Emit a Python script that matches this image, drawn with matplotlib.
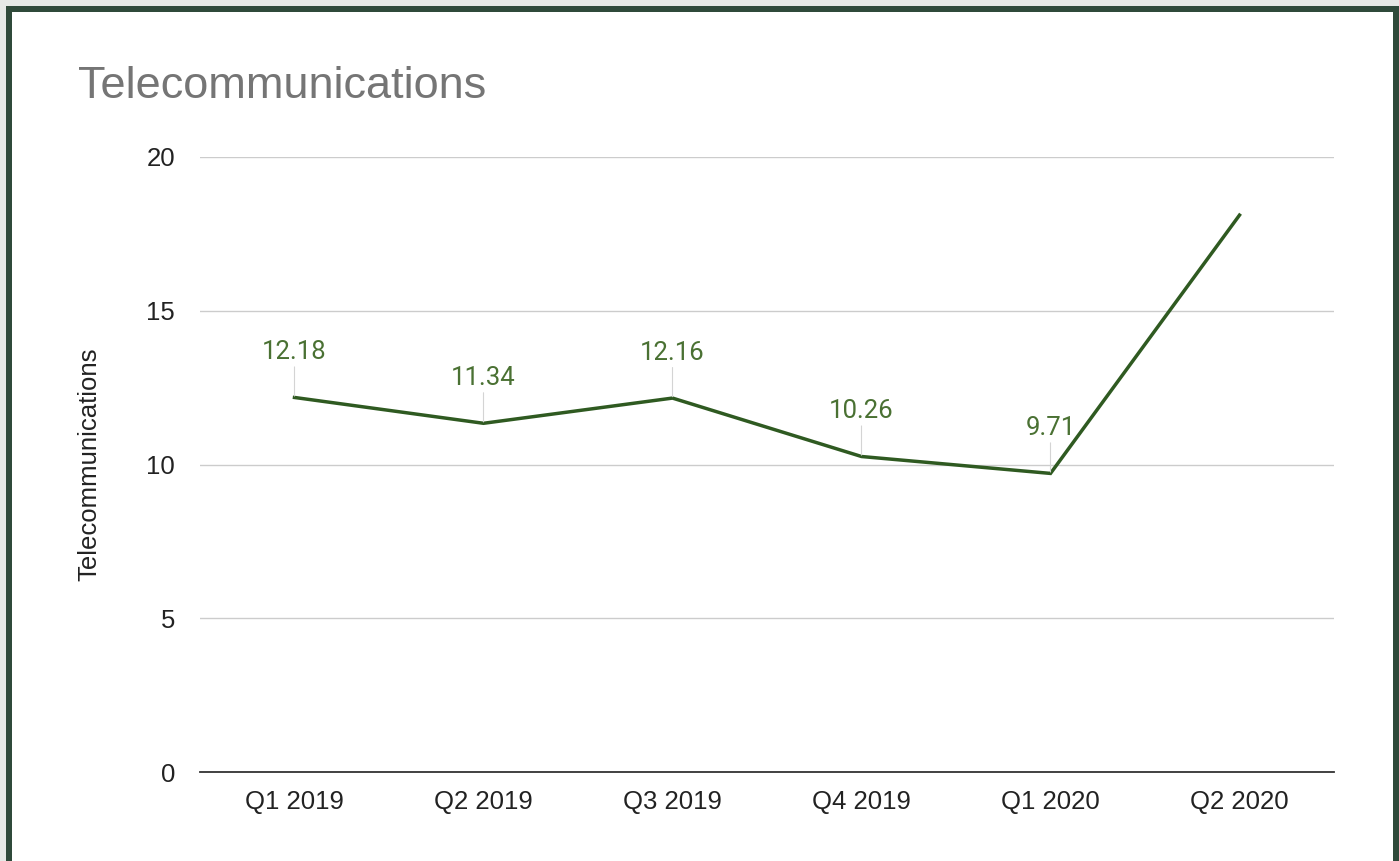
import matplotlib.pyplot as plt
from matplotlib.patches import Rectangle

# Quarterly values
quarters = ['Q1 2019', 'Q2 2019', 'Q3 2019', 'Q4 2019', 'Q1 2020', 'Q2 2020']
values = [12.18, 11.34, 12.16, 10.26, 9.71, 18.11]
labeled = [True, True, True, True, True, False]
y_ticks = [0, 5, 10, 15, 20]

W, H = 1399, 861
fig = plt.figure(figsize=(W / 100, H / 100), dpi=100, facecolor='#e6e9e6')

# dark green frame and white card (drawn behind the axes)
fig.patches.append(Rectangle((6 / W, 0), 1 - 6 / W, 1 - 6 / H, transform=fig.transFigure,
                             facecolor='#2f4a3a', edgecolor='none', zorder=-2))
fig.patches.append(Rectangle((12 / W, 0), (1393 - 12) / W, 1 - 12 / H, transform=fig.transFigure,
                             facecolor='white', edgecolor='none', zorder=-1))

ax = fig.add_axes([200 / W, 1 - 772 / H, (1334 - 200) / W, (772 - 157) / H])
ax.set_facecolor('none')

x = list(range(len(quarters)))
ax.plot(x, values, color='#2f5a21', linewidth=2.5, solid_joinstyle='miter', zorder=3)

for xi, v, show in zip(x, values, labeled):
    if show:
        ax.annotate(f'{v:.2f}', xy=(xi, v), xytext=(0, 24), textcoords='offset points',
                    ha='center', va='bottom', fontsize=18.5, color='#4a7133',
                    family=['Roboto', 'DejaVu Sans'],
                    arrowprops=dict(arrowstyle='-', color='#d4d4d4', lw=0.8,
                                    shrinkA=0, shrinkB=1))

ax.set_xlim(-0.5, len(quarters) - 0.5)
ax.set_ylim(0, 20)
ax.set_yticks(y_ticks)
ax.set_xticks(x)
ax.set_xticklabels(quarters)
ax.grid(axis='y', color='#cccccc', linewidth=1)
ax.set_axisbelow(True)
for s in ['top', 'right', 'left']:
    ax.spines[s].set_visible(False)
ax.spines['bottom'].set_color('#333333')
ax.spines['bottom'].set_linewidth(1.3)
ax.tick_params(axis='both', length=0, labelsize=18.5, labelcolor='#222222')
ax.tick_params(axis='x', pad=13)
ax.tick_params(axis='y', pad=18)
for lab in ax.get_xticklabels() + ax.get_yticklabels():
    lab.set_family(['Liberation Sans', 'DejaVu Sans'])

ax.set_ylabel('Telecommunications', fontsize=18.5, color='#222222',
              family=['Liberation Sans', 'DejaVu Sans'], labelpad=32)

fig.text(78 / W, 1 - 87 / H, 'Telecommunications', fontsize=32.5, color='#757575',
         va='center', ha='left', family=['Liberation Sans', 'DejaVu Sans'])

fig.savefig('out.png', dpi=100, facecolor=fig.get_facecolor())
